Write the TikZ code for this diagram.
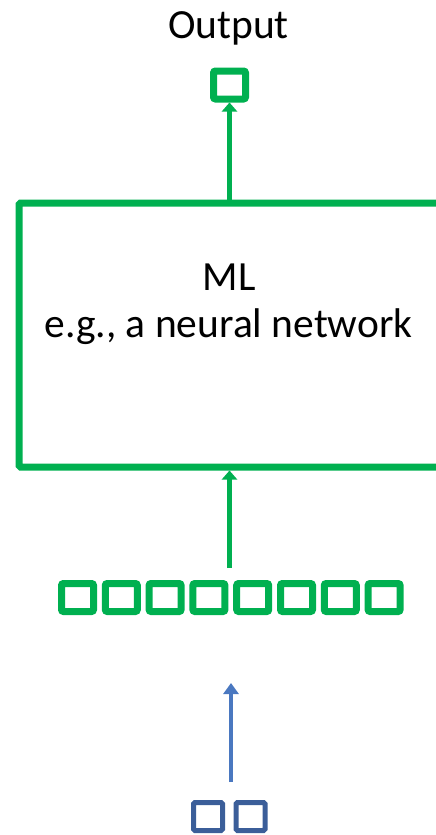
\documentclass[tikz,border=0pt]{standalone}
\usepackage{fontspec}
\setmainfont{Carlito}
\usetikzlibrary{arrows.meta}
\definecolor{mlgreen}{HTML}{00B050}
\definecolor{inblue}{HTML}{3B5E99}
\definecolor{arrowblue}{HTML}{4A78C0}
\tikzset{
  label text/.style={font=\fontsize{41.5}{48}\selectfont, inner sep=0pt, anchor=base},
  gcell/.style={draw=mlgreen, line width=7pt, minimum width=32pt, minimum height=28pt,
                inner sep=0pt, rounded corners=2pt},
  bcell/.style={draw=inblue, line width=5pt, minimum width=29pt, minimum height=28pt,
                inner sep=0pt, rounded corners=1.5pt},
  gflow/.style={draw=mlgreen, line width=4.5pt, -{Triangle[length=9pt,width=15pt]}},
  bflow/.style={draw=arrowblue, line width=4pt, -{Triangle[length=11pt,width=15pt]}},
}
\begin{document}
\begin{tikzpicture}[x=1pt, y=-1pt]
  \useasboundingbox (0,0) rectangle (436,835);
  \clip (0,0) rectangle (436,835);

  % output label and output cell
  \node[label text] (outlabel) at (228.5,38) {Output};
  \node[gcell] (out) at (229.5,85) {};

  % the model box (its right side runs past the frame)
  \node[draw=mlgreen, line width=7pt, minimum width=421pt, minimum height=264pt,
        inner sep=0pt, rounded corners=1.5pt] (ml) at (229.5,335) {};
  \node[label text] (mlname) at (229,290) {ML};
  \node[label text] (mlnote) at (228.5,337) {e.g., a neural network};

  % embedded input vector
  \foreach \i in {0,...,7}{
    \node[gcell] (v\i) at ({77.5+43.8*\i},597.5) {};
  }

  % raw input
  \node[bcell] (b0) at (208,816.5) {};
  \node[bcell] (b1) at (250.5,816.5) {};

  % connectors
  \coordinate (vtop) at (229.5,568);
  \coordinate (rawtop) at (231,782);
  \coordinate (embtip) at (231,683);

  \draw[gflow] (ml.north) -- (out.south);
  \draw[gflow] (vtop) -- (ml.south);
  \draw[bflow] (rawtop) -- (embtip);
\end{tikzpicture}
\end{document}
